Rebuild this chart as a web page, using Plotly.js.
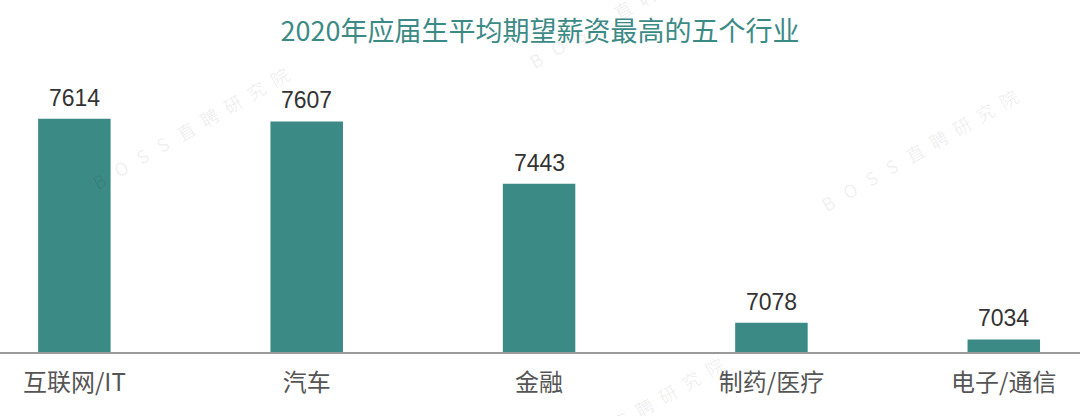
<!DOCTYPE html>
<html>
<head>
<meta charset="utf-8">
<script src="https://cdn.plot.ly/plotly-3.0.1.min.js"></script>
<style>
html,body{margin:0;padding:0;background:#fff;}
#chart{width:1080px;height:416px;}
</style>
</head>
<body>
<div id="chart"></div>
<script>
const chartTitle = '2020年应届生平均期望薪资最高的五个行业';
const categories = ['互联网/IT', '汽车', '金融', '制药/医疗', '电子/通信'];
const values = [7614, 7607, 7443, 7078, 7034];
const watermarkText = 'B\u2002\u2009O\u2002\u2009S\u2002\u2009S\u2002\u2009直\u2002聘\u2002研\u2002究\u2002院';

const W = 1080, H = 416, MT = 60, MB = 64;
const plotH = H - MT - MB;
const teal = '#3c8a86';
const yBase = 7001;

// watermark centres in pixels (layout only)
const wmPos = [[190,128],[919,150],[627,7],[625,418],[188,486]];

const valueAnn = categories.map((c, i) => ({
  x: c, y: values[i] - yBase, xref: 'x', yref: 'y',
  text: String(values[i]), showarrow: false,
  yanchor: 'bottom', yshift: 6,
  font: {family: 'Liberation Sans, Arial, sans-serif', size: 23, color: '#333333'}
}));

const wmAnn = wmPos.map(p => ({
  x: p[0] / W, y: (H - MB - p[1]) / plotH, xref: 'paper', yref: 'paper',
  xanchor: 'center', yanchor: 'middle',
  text: watermarkText, showarrow: false, textangle: -30,
  font: {family: 'Noto Sans CJK SC, sans-serif', size: 18, color: 'rgba(0,0,0,0.075)'}
}));

const trace = {
  type: 'bar',
  x: categories,
  y: values.map(v => v - yBase),
  width: 0.312,
  marker: {color: teal},
  hoverinfo: 'skip'
};

const layout = {
  width: W, height: H,
  margin: {l: 0, r: 0, t: MT, b: MB, pad: 0},
  paper_bgcolor: '#ffffff', plot_bgcolor: '#ffffff',
  showlegend: false,
  title: {
    text: chartTitle,
    x: 0.5, xanchor: 'center',
    y: 1 - 31.5 / H, yanchor: 'middle', yref: 'container',
    font: {family: 'Noto Sans CJK SC, sans-serif', size: 27, color: teal}
  },
  xaxis: {
    type: 'category',
    range: [-0.32, 4.328],
    showline: true, linecolor: '#9a9a9a', linewidth: 2,
    showgrid: false, zeroline: false, ticks: '',
    ticklabelstandoff: 8,
    tickfont: {family: 'Noto Sans CJK SC, sans-serif', size: 24, color: '#555555'},
    fixedrange: true
  },
  yaxis: {
    range: [0, plotH / 0.3805],
    visible: false, showgrid: false, zeroline: false, fixedrange: true
  },
  annotations: wmAnn.concat(valueAnn)
};

Plotly.newPlot('chart', [trace], layout, {displayModeBar: false, staticPlot: true});
</script>
</body>
</html>
